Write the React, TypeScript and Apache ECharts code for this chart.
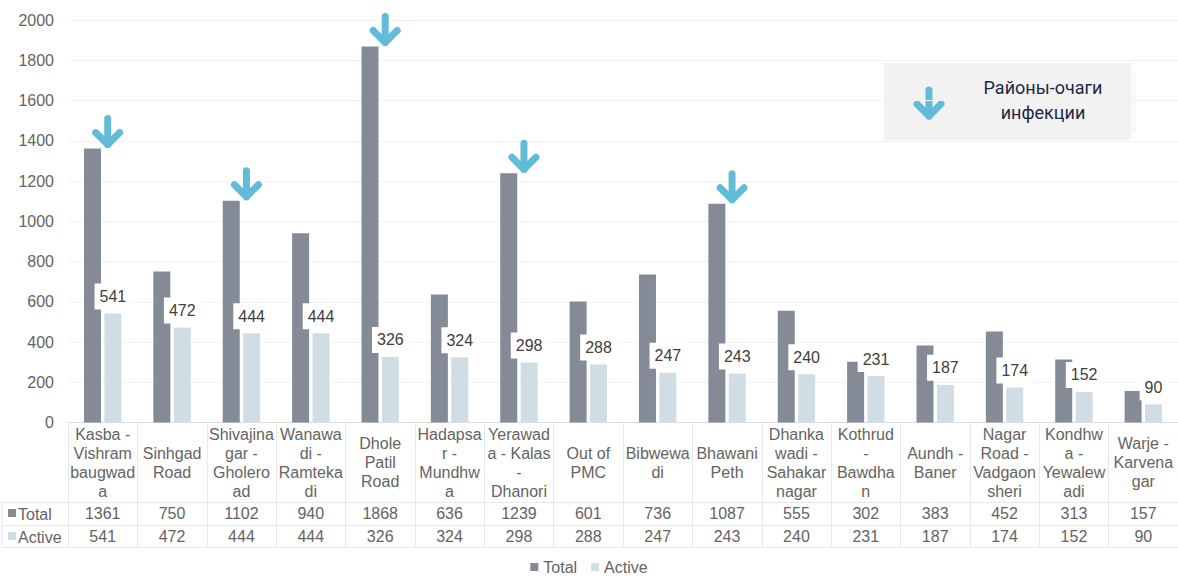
import React, { useEffect, useRef } from "react";
import * as echarts from "echarts";

const categories = [
  "Kasba -\nVishram\nbaugwad\na",
  "Sinhgad\nRoad",
  "Shivajina\ngar -\nGholero\nad",
  "Wanawa\ndi -\nRamteka\ndi",
  "Dhole\nPatil\nRoad",
  "Hadapsa\nr -\nMundhw\na",
  "Yerawad\na - Kalas\n-\nDhanori",
  "Out of\nPMC",
  "Bibwewa\ndi",
  "Bhawani\nPeth",
  "Dhanka\nwadi -\nSahakar\nnagar",
  "Kothrud\n-\nBawdha\nn",
  "Aundh -\nBaner",
  "Nagar\nRoad -\nVadgaon\nsheri",
  "Kondhw\na -\nYewalew\nadi",
  "Warje -\nKarvena\ngar",
];
const totalValues = [1361, 750, 1102, 940, 1868, 636, 1239, 601, 736, 1087, 555, 302, 383, 452, 313, 157];
const activeValues = [541, 472, 444, 444, 326, 324, 298, 288, 247, 243, 240, 231, 187, 174, 152, 90];
const hotspotIndices = [0, 2, 4, 6, 9];
const yTicks = { min: 0, max: 2000, interval: 200 };
const legendNames = ["Total", "Active"];
const boxText = "Районы-очаги\nинфекции";

const TOTAL_COLOR = "#848a96";
const ACTIVE_COLOR = "#d1dde4";
const ARROW_COLOR = "#62bcd7";
const TEXT_GRAY = "#646464";
const LINE_GRAY = "#e8e8e8";
const FONT = "'Liberation Sans', Arial, sans-serif";
const FS = 16;

const GRID = { left: 68, top: 20, width: 1110, height: 402.5 };

function arrowChildren(x: number, y: number) {
  return [
    {
      type: "line",
      shape: { x1: x, y1: y - 30, x2: x, y2: y - 4 },
      style: { stroke: ARROW_COLOR, lineWidth: 7, lineCap: "round" },
    },
    {
      type: "polyline",
      shape: { points: [[x - 12, y - 16], [x, y - 4], [x + 12, y - 16]] },
      style: { stroke: ARROW_COLOR, lineWidth: 7, lineCap: "round", lineJoin: "round", fill: null },
    },
  ];
}

export default function App() {
  const ref = useRef<HTMLDivElement>(null);
  useEffect(() => {
    document.body.style.margin = "0";
    if (!ref.current) return;
    const chart = echarts.init(ref.current, null, { renderer: "svg" });
    const axisBottom = GRID.top + GRID.height;
    const rowLine1 = axisBottom + 80;
    const rowLine2 = axisBottom + 103;
    const rowLine3 = axisBottom + 125;
    const option: any = {
      animation: false,
      textStyle: { fontFamily: FONT },
      grid: { left: GRID.left, top: GRID.top, width: GRID.width, height: GRID.height, containLabel: false },
      legend: {
        data: legendNames,
        top: 559,
        left: "center",
        padding: [0, 5],
        icon: "rect",
        itemWidth: 8,
        itemHeight: 8,
        itemGap: 14,
        textStyle: { fontSize: FS, color: TEXT_GRAY, fontFamily: FONT },
      },
      xAxis: [
        {
          type: "category",
          data: categories,
          axisLine: { show: true, lineStyle: { color: "#dcdcdc" } },
          axisTick: { show: true, interval: 0, length: 125, lineStyle: { color: LINE_GRAY } },
          axisLabel: {
            interval: 0,
            margin: 40,
            verticalAlign: "middle",
            lineHeight: 19,
            fontSize: FS,
            color: TEXT_GRAY,
            fontFamily: FONT,
          },
          splitLine: { show: false },
        },
        {
          type: "category",
          data: totalValues.map(String),
          position: "bottom",
          axisLine: { show: false },
          axisTick: { show: false },
          axisLabel: { interval: 0, margin: 91, verticalAlign: "middle", fontSize: FS, color: TEXT_GRAY, fontFamily: FONT },
        },
        {
          type: "category",
          data: activeValues.map(String),
          position: "bottom",
          axisLine: { show: false },
          axisTick: { show: false },
          axisLabel: { interval: 0, margin: 114, verticalAlign: "middle", fontSize: FS, color: TEXT_GRAY, fontFamily: FONT },
        },
      ],
      yAxis: {
        type: "value",
        min: yTicks.min,
        max: yTicks.max,
        interval: yTicks.interval,
        axisLine: { show: false },
        axisTick: { show: false },
        axisLabel: {
          margin: 14,
          fontSize: FS,
          color: TEXT_GRAY,
          fontFamily: FONT,
          formatter: (v: number) => String(v),
        },
        splitLine: { lineStyle: { color: "#f3f3f3" } },
      },
      series: [
        {
          name: "Total",
          type: "bar",
          data: totalValues,
          barWidth: 17,
          barGap: "20%",
          itemStyle: { color: TOTAL_COLOR },
        },
        {
          name: "Active",
          type: "bar",
          data: activeValues,
          barWidth: 17,
          itemStyle: { color: ACTIVE_COLOR },
          label: {
            show: true,
            position: "top",
            distance: 4,
            backgroundColor: "#ffffff",
            padding: [5, 5, 5, 5],
            fontSize: 16,
            color: "#404040",
            fontFamily: FONT,
          },
        },
        {
          name: "hotspots",
          type: "custom",
          data: hotspotIndices.map((i) => [i, totalValues[i]]),
          clip: false,
          z: 5,
          renderItem: (params: any, api: any) => {
            const p = api.coord([api.value(0), api.value(1)]);
            return { type: "group", children: arrowChildren(p[0] + 5, p[1]) };
          },
        },
      ],
      graphic: [
        { type: "line", shape: { x1: 2, y1: rowLine1, x2: 1178, y2: rowLine1 }, style: { stroke: LINE_GRAY, lineWidth: 1 } },
        { type: "line", shape: { x1: 2, y1: rowLine2, x2: 1178, y2: rowLine2 }, style: { stroke: LINE_GRAY, lineWidth: 1 } },
        { type: "line", shape: { x1: 2, y1: rowLine3, x2: 1178, y2: rowLine3 }, style: { stroke: LINE_GRAY, lineWidth: 1 } },
        { type: "line", shape: { x1: 2, y1: rowLine1, x2: 2, y2: rowLine3 }, style: { stroke: LINE_GRAY, lineWidth: 1 } },
        { type: "rect", shape: { x: 8, y: 509, width: 8, height: 8 }, style: { fill: TOTAL_COLOR } },
        { type: "text", x: 18, y: 514, style: { text: legendNames[0], fontSize: FS, fill: TEXT_GRAY, fontFamily: FONT, verticalAlign: "middle" } },
        { type: "rect", shape: { x: 8, y: 532, width: 8, height: 8 }, style: { fill: ACTIVE_COLOR } },
        { type: "text", x: 18, y: 537, style: { text: legendNames[1], fontSize: FS, fill: TEXT_GRAY, fontFamily: FONT, verticalAlign: "middle" } },
        { type: "rect", shape: { x: 1128, y: 73, width: 8, height: 60 }, style: { fill: "#f8f8f8" } },
        { type: "rect", shape: { x: 884, y: 63, width: 247, height: 77 }, style: { fill: "#f2f2f2" } },
        { type: "group", children: arrowChildren(929, 120) },
        {
          type: "text",
          x: 1043,
          y: 100,
          style: {
            text: boxText,
            fontSize: 18,
            lineHeight: 25,
            fill: "#1c2848",
            fontFamily: "Roboto, 'Noto Sans', sans-serif",
            align: "center",
            verticalAlign: "middle",
          },
        },
      ],
    };
    chart.setOption(option);
    return () => chart.dispose();
  }, []);
  return <div ref={ref} style={{ width: 1178, height: 576 }} />;
}
